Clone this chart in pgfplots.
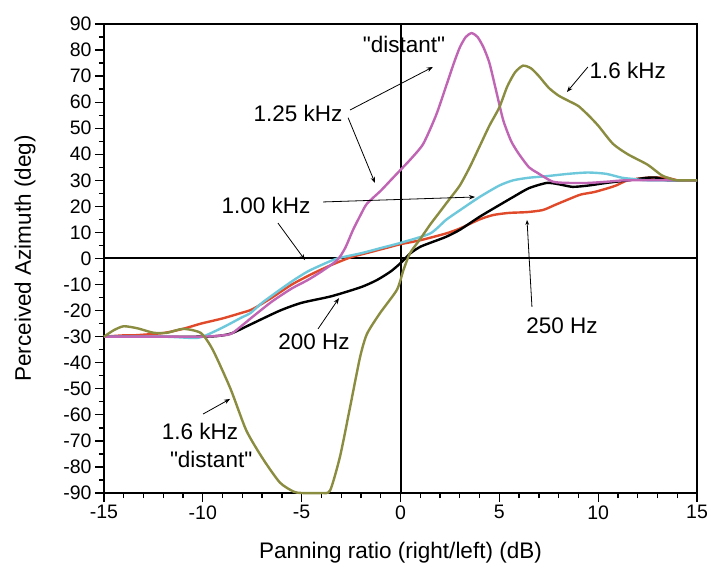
\documentclass[border=0pt]{standalone}
\usepackage{pgfplots}
\pgfplotsset{compat=1.18}
\usepackage{fontspec}
\setmainfont{Liberation Sans}[Ligatures=TeXOff]
\usetikzlibrary{arrows.meta}
\definecolor{colOlive}{RGB}{138,140,64}
\definecolor{colMag}{RGB}{192,100,180}
\definecolor{colCyan}{RGB}{110,200,220}
\definecolor{colRed}{RGB}{224,74,42}
\newcommand{\annfont}{\fontsize{22.5bp}{27bp}\selectfont}
\begin{document}
\begin{tikzpicture}
\useasboundingbox (-104bp,-72bp) rectangle (605bp,493bp);
\begin{axis}[
  scale only axis, width=593bp, height=469bp,
  at={(0,0)}, anchor=south west,
  xmin=-15, xmax=15, ymin=-90, ymax=90,
  xtick={-15,-10,...,15}, ytick={-90,-80,...,90},
  minor x tick num=4, minor y tick num=1,
  tick align=outside, tick pos=left,
  major tick length=9bp, minor tick length=5bp,
  every tick/.style={black, line width=1.3bp},
  axis line style={line width=1.6bp},
  /pgf/number format/assume math mode=true,
  tick label style={font=\fontsize{19.5bp}{23bp}\selectfont},
  xlabel={Panning ratio (right/left) (dB)},
  ylabel={Perceived Azimuth (deg)},
  every axis x label/.style={at={(axis description cs:0.5,-0.128)}, anchor=center, font=\annfont},
  every axis y label/.style={at={(axis description cs:-0.1332,0.5)}, rotate=90, anchor=center, font=\annfont},
  clip=false,
]
\draw[black, line width=2bp] (axis cs:0,-90) -- (axis cs:0,90);
\draw[black, line width=2bp] (axis cs:-15,0) -- (axis cs:15,0);

% 250 Hz (red)
\addplot[colRed, line width=2.4bp, smooth, tension=0.4] coordinates {
(-15,-30) (-14,-29.5) (-13.5,-29.5) (-12,-28.6) (-11,-27) (-10.1,-25) (-9,-23) (-8.1,-21)
(-7.5,-19.5) (-6.5,-15) (-5.5,-10) (-4.5,-6) (-3.5,-2.5) (-2.5,0.5) (-1.5,2.5) (-0.5,4.5)
(0,5.5) (1,7) (2.3,9.6) (3,11.5) (4,15) (4.7,16.7) (5.5,17.5) (6.4,17.8) (7.2,18.6)
(7.8,20.5) (8.4,22.4) (9.1,24.5) (9.8,25.5) (10.5,27) (10.9,28) (11.5,30) (12.5,31)
(13.5,31) (14,30) (15,30)};

% 200 Hz (black)
\addplot[black, line width=2.4bp, smooth, tension=0.4] coordinates {
(-15,-30) (-10,-30) (-9,-29.5) (-8.5,-28.6) (-7.5,-25) (-6.1,-20) (-5,-17) (-3.5,-14.5)
(-2,-11) (-1.2,-8.3) (-0.5,-5) (0,-1.8) (0.5,2) (1,4.5) (1.5,6) (2.3,8.3) (3,11) (4,16)
(5,20.5) (5.7,23.6) (6.5,27) (7.4,29) (8,28.5) (8.7,27.5) (9.5,28) (10.4,29) (11.5,30)
(12.5,31) (13,31) (13.5,30) (15,30)};

% 1.00 kHz (cyan)
\addplot[colCyan, line width=2.4bp, smooth, tension=0.4] coordinates {
(-15,-30) (-12,-30) (-10.5,-30.5) (-10,-30) (-9,-26.5) (-8,-22.5) (-7.6,-21) (-7,-17)
(-6.1,-12) (-5.4,-8.3) (-4.7,-5) (-4,-2.5) (-3.2,0) (-2,2) (-1,4) (0,6) (1.5,9.6)
(2.3,14.8) (3,18.5) (4,23.6) (5,28) (5.7,30) (6.5,31) (7.4,31.6) (8.5,32.5) (9.5,33)
(10.4,32.5) (11.2,31) (11.8,30.5) (12.5,30) (15,30)};

% 1.25 kHz (magenta)
\addplot[colMag, line width=2.4bp, smooth, tension=0.4] coordinates {
(-15,-30) (-12,-30) (-10,-30) (-9,-29.5) (-8.5,-28.6) (-7.5,-22.5) (-6.5,-16.5)
(-5.5,-11.5) (-4.7,-8.3) (-4,-5) (-3.2,-0.6) (-2.8,4) (-2.4,11) (-2,17) (-1.7,21)
(-1,26) (-0.5,30) (0,34) (0.5,38) (1.15,44) (1.8,55) (2.3,66) (2.7,75) (3,81) (3.3,85)
(3.6,86.5) (3.9,85) (4.2,81) (4.5,75) (4.85,64) (5.2,53) (5.6,45) (6,40) (6.5,35)
(6.9,33) (7.7,29.5) (8.5,29) (9.5,29) (10.5,29.5) (11.5,30) (15,30)};

% 1.6 kHz (olive)
\addplot[colOlive, line width=2.4bp, smooth, tension=0.4] coordinates {
(-15,-30) (-14.5,-27.5) (-14,-26) (-13.3,-26.8) (-12.5,-28.5) (-11.8,-28.5) (-11,-27)
(-10.1,-28.6) (-9.5,-35) (-8.6,-50) (-7.8,-66) (-6.95,-77) (-6.1,-86) (-5.4,-89.5)
(-5,-90) (-4,-90) (-3.56,-89) (-3.06,-76) (-2.55,-57) (-2.05,-38) (-1.7,-29)
(-1.04,-21) (-0.18,-12) (0.15,-4.4) (0.48,2) (1,7.5) (1.5,13) (2,18) (2.5,23)
(3,28) (3.5,35) (4,43) (4.5,51) (5,58) (5.4,66) (5.8,71.5) (6.2,74) (6.6,73) (7,70)
(7.5,65.5) (8,62.5) (8.5,60.5) (9,58.5) (9.5,55) (10,51) (10.75,44) (11.5,40)
(12.5,36) (13.2,32) (13.7,30.5) (14,30) (15,30)};

% annotations
\node[font=\annfont] at (axis cs:0.18,82.3) {"distant"};
\node[font=\annfont] at (axis cs:-5.18,55.8) {1.25 kHz};
\draw[-{Stealth[length=6bp]}, line width=0.8bp] (axis cs:-2.55,57) -- (axis cs:1.64,73.5);
\draw[-{Stealth[length=6bp]}, line width=0.8bp] (axis cs:-2.65,54) -- (axis cs:-1.29,29);
\node[font=\annfont] at (axis cs:11.5,72) {1.6 kHz};
\draw[-{Stealth[length=6bp]}, line width=0.8bp] (axis cs:9.48,73.5) -- (axis cs:8.42,63.9);
\node[font=\annfont] at (axis cs:-6.8,20.5) {1.00 kHz};
\draw[-{Stealth[length=6bp]}, line width=0.8bp] (axis cs:-3.92,21.7) -- (axis cs:3.77,23.6);
\draw[-{Stealth[length=6bp]}, line width=0.8bp] (axis cs:-6.2,13.6) -- (axis cs:-4.83,-0.6);
\node[font=\annfont] at (axis cs:-4.38,-32) {200 Hz};
\draw[-{Stealth[length=6bp]}, line width=0.8bp] (axis cs:-4.17,-27) -- (axis cs:-3.11,-15.2);
\node[font=\annfont] at (axis cs:8.17,-25.9) {250 Hz};
\draw[-{Stealth[length=5bp]}, line width=0.8bp] (axis cs:6.65,-18.6) -- (axis cs:6.4,14.8);
\node[font=\annfont] at (axis cs:-10.14,-66.2) {1.6 kHz};
\node[font=\annfont] at (axis cs:-9.58,-77.3) {"distant"};
\draw[-{Stealth[length=6bp]}, line width=0.8bp] (axis cs:-9.99,-59.7) -- (axis cs:-8.62,-53.9);
\end{axis}
\end{tikzpicture}
\end{document}
